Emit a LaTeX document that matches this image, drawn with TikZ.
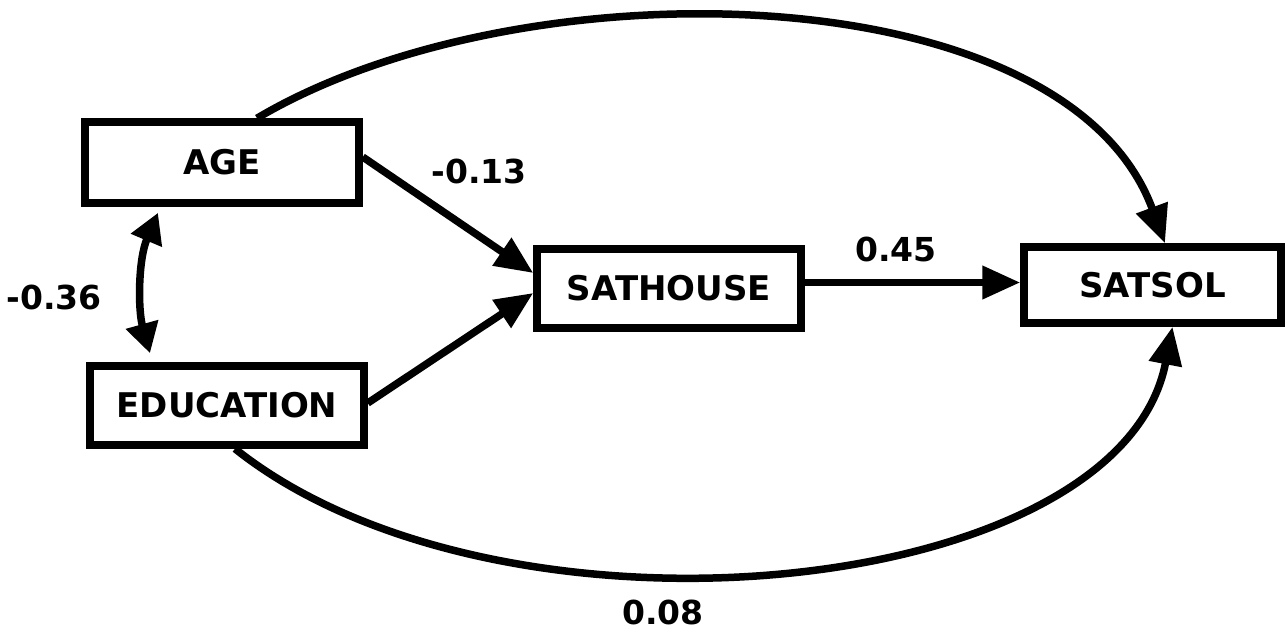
\documentclass[tikz,border=0pt]{standalone}
\usepackage{fontspec}
\setsansfont{DejaVu Sans}
\usetikzlibrary{arrows.meta}
\begin{document}
\begin{tikzpicture}[x=1pt,y=-1pt,
  box/.style={draw, line width=7.5pt, inner sep=0pt, font=\sffamily\bfseries\fontsize{34}{38}\selectfont},
  lbl/.style={font=\sffamily\bfseries\fontsize{33}{37}\selectfont, inner sep=0pt},
  conn/.style={line width=7.5pt, -{Triangle[length=38pt,width=32pt]}},
  dbl/.style={line width=7.5pt, {Triangle[length=30pt,width=32pt]}-{Triangle[length=30pt,width=32pt]}}
]
\useasboundingbox (0,0) rectangle (1286,635);
\node[box, minimum width=274pt, minimum height=81pt] (age) at (222,162.5) {AGE};
\node[box, minimum width=274pt, minimum height=79pt] (edu) at (227,405.5) {EDUCATION};
\node[box, minimum width=264pt, minimum height=79pt] (sh) at (669,288.5) {SATHOUSE};
\node[box, minimum width=257pt, minimum height=76pt] (ss) at (1152.5,285) {SATSOL};

\draw[conn] ([yshift=5.5pt]age.east) -- ([yshift=15.5pt]sh.west);
\draw[conn] ([yshift=2.5pt]edu.east) -- ([yshift=-4.5pt]sh.west);
\draw[conn] ([yshift=6pt]sh.east) -- ([yshift=6pt]sh.east -| ss.west);
\draw[conn] ([xshift=35pt]age.north) .. controls (520,-38) and (1065,-28) .. ([xshift=12.5pt]ss.north);
\draw[conn] ([xshift=8pt]edu.south) .. controls (500,660) and (1120,600) .. ([xshift=20pt]ss.south);
\draw[dbl] ([xshift=-64pt,yshift=-6pt]age.south) .. controls (138,260) and (138,310) .. ([xshift=-77pt,yshift=9pt]edu.north);

\node[lbl] (l1) at (479,171) {-0.13};
\node[lbl] (l2) at (896,249) {0.45};
\node[lbl] (l3) at (54,297) {-0.36};
\node[lbl] (l4) at (663,612) {0.08};
\end{tikzpicture}
\end{document}
